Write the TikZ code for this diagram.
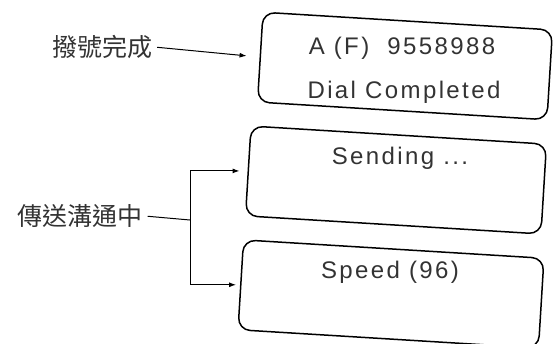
\documentclass[tikz,border=0pt]{standalone}
\usepackage{fontspec}
\setmainfont{Liberation Sans}
\newfontfamily\lcdfont[LetterSpace=10]{Liberation Sans}
\newfontfamily\cjkfont{Noto Sans CJK TC}
\usetikzlibrary{arrows.meta}
\tikzset{
    panel/.style={draw, line width=1.5pt, rounded corners=12pt, minimum height=90pt, rotate=-3.5, inner sep=0pt},
    screentext/.style={font=\lcdfont\fontsize{24}{28}\selectfont, text=black!80, inner sep=0pt},
    tag/.style={font=\cjkfont\fontsize{25}{29}\selectfont, text=black!80, inner sep=2pt},
    link/.style={line width=1pt, -{Latex[length=7pt,width=5pt]}}
}
\begin{document}
\begin{tikzpicture}[x=1pt, y=-1pt]
    \useasboundingbox (0,0) rectangle (554,343);
    % display panels
    \node[panel, minimum width=290pt] (dial) at (405,66) {};
    \node[panel, minimum width=296pt] (send) at (396,180) {};
    \node[panel, minimum width=301pt] (speed) at (391,294) {};
    % display texts
    \node[screentext] (number) at (402,48) {A (F)\ \ 9558988};
    \node[screentext] (done) at (404,92) {Dial Completed};
    \node[screentext] (sending) at (400,158) {Sending ...};
    \node[screentext] (rate) at (390,272) {Speed (96)};
    % labels
    \node[tag] (dialtag) at (102,47) {撥號完成};
    \node[tag] (sendtag) at (80,216) {傳送溝通中};
    \coordinate (fork) at (190,220);
    \draw[link, shorten <=3pt, shorten >=13pt] (dialtag.east) -- (dial.west);
    \draw[line width=1pt, shorten <=3pt] (sendtag.east) -- (fork);
    \draw[link, shorten >=8pt] (fork) |- (send.west);
    \draw[link, shorten >=4pt] (fork) |- (speed.west);
\end{tikzpicture}
\end{document}
